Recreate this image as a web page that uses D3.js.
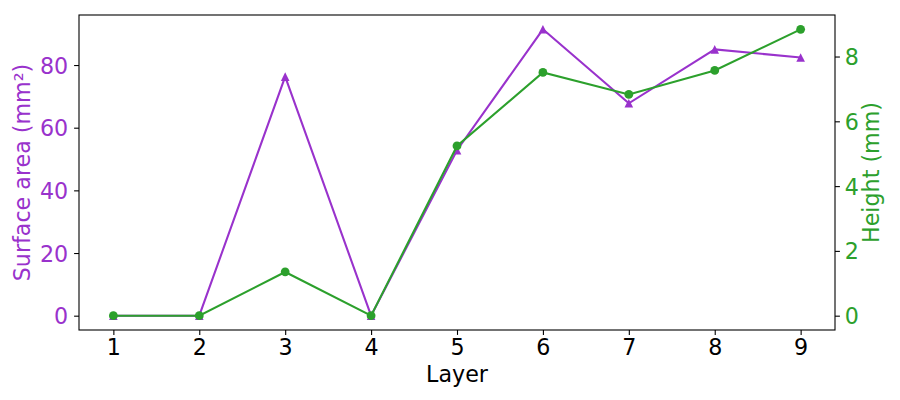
<!DOCTYPE html>
<html>
<head>
<meta charset="utf-8">
<script src="https://cdn.jsdelivr.net/npm/d3@7"></script>
<style>
  body { margin: 0; background: #fff; }
  text { font-family: "DejaVu Sans", sans-serif; }
</style>
</head>
<body>
<div id="chart"></div>
<script>
// data
var layers = [1, 2, 3, 4, 5, 6, 7, 8, 9];
var surfaceArea = [0, 0, 76.3, 0, 52.8, 91.4, 67.8, 85.0, 82.4];
var height = [0, 0, 1.35, 0, 5.24, 7.51, 6.83, 7.57, 8.84];
var areaTicks = [0, 20, 40, 60, 80];
var heightTicks = [0, 2, 4, 6, 8];

var purple = "#9932cc",
    green = "#2ca02c";

var margin = {top: 15, right: 65, bottom: 70, left: 79},
    width = 900 - margin.left - margin.right,
    plotH = 400 - margin.top - margin.bottom;

var svg = d3.select("#chart").append("svg")
    .attr("width", 900)
    .attr("height", 400)
  .append("g")
    .attr("transform", "translate(" + margin.left + "," + margin.top + ")");

var x = d3.scaleLinear()
    .domain([0.6, 9.4])
    .range([0, width]);

var aMax = d3.max(surfaceArea);
var yA = d3.scaleLinear()
    .domain([-0.05 * aMax, aMax * 1.05])
    .range([plotH, 0]);

var hMax = d3.max(height);
var yH = d3.scaleLinear()
    .domain([-0.05 * hMax, hMax * 1.05])
    .range([plotH, 0]);

var tickLen = 4.9, tickPad = 4.9;

var xAxis = d3.axisBottom(x).tickValues(layers).tickFormat(d3.format("d"))
    .tickSize(tickLen).tickPadding(tickPad);
var yAxisL = d3.axisLeft(yA).tickValues(areaTicks)
    .tickSize(tickLen).tickPadding(tickPad + 1);
var yAxisR = d3.axisRight(yH).tickValues(heightTicks)
    .tickSize(tickLen).tickPadding(tickPad);

function styleAxis(g, color) {
  g.select(".domain").remove();
  g.selectAll(".tick line").attr("stroke", "#000").attr("stroke-width", 1.1);
  g.selectAll(".tick text")
    .attr("fill", color)
    .style("font-size", "22.2px");
}

svg.append("g")
    .attr("transform", "translate(0," + plotH + ")")
    .call(xAxis)
    .call(styleAxis, "#000")
    .selectAll(".tick text").attr("dy", "0.7em");

svg.append("g")
    .call(yAxisL)
    .call(styleAxis, purple)
    .selectAll(".tick text").attr("dy", "0.36em");

svg.append("g")
    .attr("transform", "translate(" + width + ",0)")
    .call(yAxisR)
    .call(styleAxis, green)
    .selectAll(".tick text").attr("dy", "0.36em");

// surface area line (left axis)
var lineA = d3.line()
    .x(function(d, i) { return x(layers[i]); })
    .y(function(d) { return yA(d); });

svg.append("path")
    .datum(surfaceArea)
    .attr("fill", "none")
    .attr("stroke", purple)
    .attr("stroke-width", 2.08)
    .attr("d", lineA);

var s = 4.3;
svg.selectAll(".tri")
    .data(surfaceArea)
  .enter().append("path")
    .attr("class", "tri")
    .attr("fill", purple)
    .attr("d", function(d, i) {
      var cx = x(layers[i]), cy = yA(d);
      return "M" + cx + "," + (cy - s) + "L" + (cx - s) + "," + (cy + s) + "L" + (cx + s) + "," + (cy + s) + "Z";
    });

// height line (right axis)
var lineH = d3.line()
    .x(function(d, i) { return x(layers[i]); })
    .y(function(d) { return yH(d); });

svg.append("path")
    .datum(height)
    .attr("fill", "none")
    .attr("stroke", green)
    .attr("stroke-width", 2.08)
    .attr("d", lineH);

svg.selectAll(".dot")
    .data(height)
  .enter().append("circle")
    .attr("class", "dot")
    .attr("r", 4.4)
    .attr("cx", function(d, i) { return x(layers[i]); })
    .attr("cy", function(d) { return yH(d); })
    .attr("fill", green);

// frame
svg.append("rect")
    .attr("width", width)
    .attr("height", plotH)
    .attr("fill", "none")
    .attr("stroke", "#000")
    .attr("stroke-width", 1.1);

// labels
svg.append("text")
    .attr("x", width / 2)
    .attr("y", 381.7 - margin.top)
    .attr("text-anchor", "middle")
    .style("font-size", "22.2px")
    .attr("fill", "#000")
    .text("Layer");

svg.append("text")
    .attr("transform", "translate(" + (30 - margin.left) + "," + (plotH / 2) + ") rotate(-90)")
    .attr("text-anchor", "middle")
    .style("font-size", "22.2px")
    .attr("fill", purple)
    .text("Surface area (mm²)");

svg.append("text")
    .attr("transform", "translate(" + (879 - margin.left) + "," + (plotH / 2) + ") rotate(-90)")
    .attr("text-anchor", "middle")
    .style("font-size", "22.2px")
    .attr("fill", green)
    .text("Height (mm)");
</script>
</body>
</html>
